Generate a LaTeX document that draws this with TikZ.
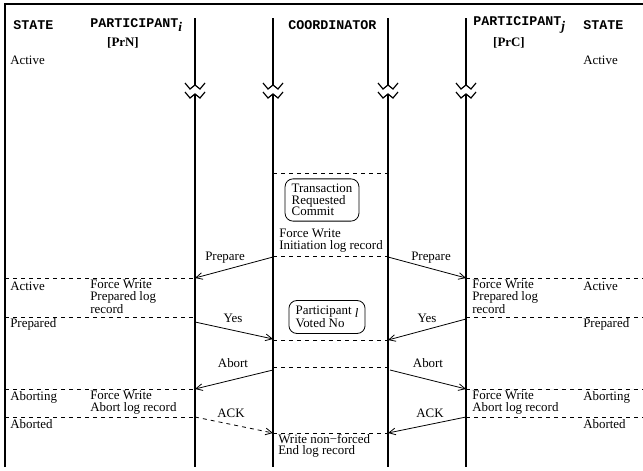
\documentclass[tikz,border=0pt]{standalone}
\usepackage{fontspec}
\setmainfont{Liberation Serif}
\setmonofont{Liberation Mono}
\usetikzlibrary{arrows.meta}
\tikzset{
  brk/.pic={
    \draw[line width=0.9pt] (-10,83) -- (-5,89) -- (0,85) -- (5,89) -- (10,83);
    \draw[line width=0.9pt] (-10,92) -- (-5,98) -- (0,94) -- (5,98) -- (10,92);
  }
}
\begin{document}
\begin{tikzpicture}[x=0.75pt,y=-0.75pt,
    every node/.style={font=\fontsize{9.7}{8.6}\selectfont, inner sep=0pt},
    head/.style={font=\fontsize{10}{10}\selectfont\ttfamily\bfseries, anchor=west},
    tag/.style={font=\fontsize{9.7}{10}\selectfont\bfseries},
    note/.style={anchor=north west, align=left},
    state/.style={anchor=west},
    lifeline/.style={line width=1.6pt},
    sep/.style={dashed, line width=0.5pt},
    msg/.style={-{Straight Barb[length=5pt,width=5pt]}, line width=0.6pt},
    event/.style={draw, rounded corners=6pt, align=left, inner xsep=5pt, inner ysep=4pt, line width=0.6pt}]
  \useasboundingbox (0,0) rectangle (643,471);
  \draw[line width=2pt] (5,467) -- (5,4) -- (643,4);

  % headings
  \draw
    (13,25) node[head] (st1) {STATE}
    (90,25) node[head] (pi) {PARTICIPANT\raisebox{-0.35em}{\rmfamily\bfseries\itshape i}}
    (123,43) node[tag] (prn) {[PrN]}
    (288,25) node[head] (co) {COORDINATOR}
    (473,25) node[head] (pj) {PARTICIPANT\raisebox{-0.35em}{\rmfamily\bfseries\itshape j}}
    (509,43) node[tag] (prc) {[PrC]}
    (583,25) node[head] (st2) {STATE}
    (10,60) node[state] (act0l) {Active}
    (583,60) node[state] (act0r) {Active};

  % lifelines
  \draw[lifeline] (195,18) -- (195,85) (195,94) -- (195,467);
  \draw[lifeline] (273,18) -- (273,85) (273,94) -- (273,467);
  \draw[lifeline] (388,18) -- (388,85) (388,94) -- (388,467);
  \draw[lifeline] (466,18) -- (466,85) (466,94) -- (466,467);
  \pic at (195,0) {brk};
  \pic at (273,0) {brk};
  \pic at (388,0) {brk};
  \pic at (466,0) {brk};

  % separators
  \begin{scope}[sep]
    \draw (273,173) -- (388,173);
    \draw (273,256) -- (388,256);
    \draw (273,340) -- (388,340);
    \draw (273,367) -- (388,367);
    \draw (273,433) -- (388,433);
    \draw (5,278) -- (195,278);
    \draw (466,278) -- (643,278);
    \draw (5,317) -- (195,317);
    \draw (466,317) -- (643,317);
    \draw (5,389) -- (195,389);
    \draw (466,389) -- (643,389);
    \draw (5,417) -- (195,417);
    \draw (466,417) -- (643,417);
  \end{scope}

  % coordinator
  \draw
    (322,200) node[event] (trc) {Transaction\\Requested\\Commit}
    (279,229) node[note] (fwi) {Force Write\\Initiation log record}
    (327,317) node[event] (pvn) {Participant\ \raisebox{-0.25em}{\itshape l}\\Voted No}
    (278,434) node[note] (wnf) {Write non−forced\\End log record};

  % participant i
  \draw
    (10,286) node[state] (act1l) {Active}
    (90,280) node[note] (fwpi) {Force Write\\Prepared log\\record}
    (10,324) node[state] (prpl) {Prepared}
    (10,397) node[state] (abgl) {Aborting}
    (90,391) node[note] (fwai) {Force Write\\Abort log record}
    (10,424) node[state] (abdl) {Aborted};

  % participant j
  \draw
    (583,286) node[state] (act1r) {Active}
    (472,280) node[note] (fwpj) {Force Write\\Prepared log\\record}
    (583,324) node[state] (prpr) {Prepared}
    (583,397) node[state] (abgr) {Aborting}
    (472,391) node[note] (fwaj) {Force Write\\Abort log record}
    (583,424) node[state] (abdr) {Aborted};

  % message points
  \coordinate (pi-prep) at (195,278);
  \coordinate (pi-yes) at (195,322);
  \coordinate (pi-abort) at (195,389);
  \coordinate (pi-ack) at (195,417);
  \coordinate (cl-prep) at (273,257);
  \coordinate (cl-yes) at (273,339);
  \coordinate (cl-abort) at (273,370);
  \coordinate (cl-ack) at (273,433);
  \coordinate (cr-prep) at (388,257);
  \coordinate (cr-yes) at (388,340);
  \coordinate (cr-abort) at (390,370);
  \coordinate (cr-ack) at (388,433);
  \coordinate (pj-prep) at (466,278);
  \coordinate (pj-yes) at (466,319);
  \coordinate (pj-abort) at (466,389);
  \coordinate (pj-ack) at (466,417);

  % messages
  \begin{scope}[msg]
    \draw (cl-prep) to (pi-prep);
    \draw (cr-prep) to (pj-prep);
    \draw (pi-yes) to (cl-yes);
    \draw (pj-yes) to (cr-yes);
    \draw (cl-abort) to (pi-abort);
    \draw (cr-abort) to (pj-abort);
    \draw[dashed] (pi-ack) to (cl-ack);
    \draw (pj-ack) to (cr-ack);
  \end{scope}
  \draw
    (225,258) node (prep1) {Prepare}
    (431,258) node (prep2) {Prepare}
    (233,318) node (yes1) {Yes}
    (427,318) node (yes2) {Yes}
    (233,363) node (abo1) {Abort}
    (428,363) node (abo2) {Abort}
    (231,413) node (ack1) {ACK}
    (430,413) node (ack2) {ACK};
\end{tikzpicture}
\end{document}
